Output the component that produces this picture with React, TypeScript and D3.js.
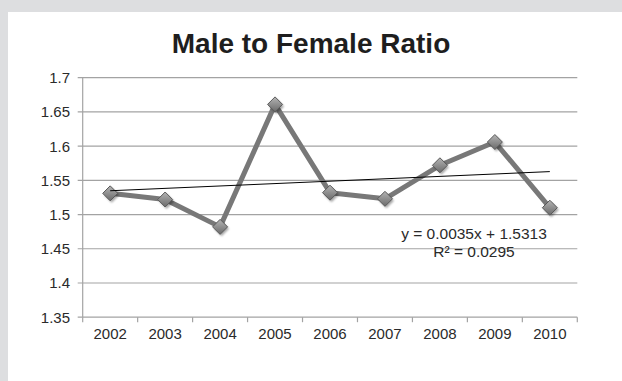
import React, { useEffect } from "react";
import * as d3 from "d3";

const years: string[] = ["2002", "2003", "2004", "2005", "2006", "2007", "2008", "2009", "2010"];
const ratios: number[] = [1.531, 1.522, 1.482, 1.661, 1.532, 1.523, 1.572, 1.606, 1.51];
const yTicks: number[] = [1.35, 1.4, 1.45, 1.5, 1.55, 1.6, 1.65, 1.7];
const yTickLabels: string[] = ["1.35", "1.4", "1.45", "1.5", "1.55", "1.6", "1.65", "1.7"];
const title = "Male to Female Ratio";
const trendLabel = "y = 0.0035x + 1.5313";
const r2Label = "R² = 0.0295";

const W = 622;
const H = 381;
const FONT = "'Liberation Sans', Arial, sans-serif";

export default function App() {
  useEffect(() => {
    document.body.style.margin = "0";
  }, []);

  const x = d3.scaleBand<string>().domain(years).range([82.7, 577.3]).paddingInner(0).paddingOuter(0);
  const y = d3.scaleLinear().domain([1.35, 1.7]).range([317.2, 77.7]);
  const cx = (d: string) => (x(d) as number) + x.bandwidth() / 2;

  // linear regression trendline (x = 1..n)
  const n = ratios.length;
  const xs = ratios.map((_, i) => i + 1);
  const mx = d3.mean(xs) as number;
  const my = d3.mean(ratios) as number;
  const slope =
    d3.sum(xs.map((xi, i) => (xi - mx) * (ratios[i] - my))) / d3.sum(xs.map((xi) => (xi - mx) ** 2));
  const intercept = my - slope * mx;
  const trendPts: [number, number][] = [
    [cx(years[0]), y(intercept + slope * 1)],
    [cx(years[n - 1]), y(intercept + slope * n)],
  ];

  const line = d3
    .line<number>()
    .x((_, i) => cx(years[i]))
    .y((d) => y(d));

  const left = 82.7;
  const right = 577.3;
  const bottom = y(1.35);
  const boundaries = [...years.map((d) => x(d) as number), right];
  const s = 7.5;
  const diamond = `M0,${-s}L${s},0L0,${s}L${-s},0Z`;

  return (
    <svg width={W} height={H} style={{ position: "absolute", left: 0, top: 0, display: "block" }} fontFamily={FONT}>
      <defs>
        <linearGradient id="mk" x1="0" y1="0" x2="0" y2="1">
          <stop offset="0" stopColor="#b4b4b4" />
          <stop offset="1" stopColor="#6a6a6a" />
        </linearGradient>
        <filter id="sh" x="-50%" y="-50%" width="200%" height="200%">
          <feGaussianBlur stdDeviation="1.2" />
        </filter>
      </defs>
      <rect x={0} y={0} width={W} height={H} fill="#dddee0" />
      <rect x={8} y={12} width={W - 8} height={H - 12} fill="#ffffff" />

      <text x={311} y={53.3} textAnchor="middle" fontSize={28} fontWeight="bold" fill="#1e1e1e">
        {title}
      </text>

      {yTicks.map((t, i) => (
        <g key={t}>
          <line x1={77.7} x2={right} y1={y(t)} y2={y(t)} stroke="#a3a3a3" strokeWidth={1.2} />
          <text x={70} y={y(t)} dy="0.36em" textAnchor="end" fontSize={15} fill="#2a2a2a">
            {yTickLabels[i]}
          </text>
        </g>
      ))}
      <line x1={left} x2={left} y1={y(1.7)} y2={bottom} stroke="#a3a3a3" strokeWidth={1.2} />
      {boundaries.map((b, i) => (
        <line key={i} x1={b} x2={b} y1={bottom} y2={bottom + 5} stroke="#a3a3a3" strokeWidth={1.2} />
      ))}
      {years.map((d) => (
        <text key={d} x={cx(d)} y={339} textAnchor="middle" fontSize={15} fill="#2a2a2a">
          {d}
        </text>
      ))}

      <path d={line(ratios) as string} fill="none" stroke="#787878" strokeWidth={5} strokeLinejoin="round" />

      {ratios.map((v, i) => (
        <g key={i} transform={`translate(${cx(years[i])},${y(v)})`}>
          <path d={diamond} transform="translate(1.5,2)" fill="#000" opacity={0.35} filter="url(#sh)" />
          <path d={diamond} fill="url(#mk)" stroke="#5a5a5a" strokeWidth={1} />
        </g>
      ))}

      <line
        x1={trendPts[0][0]}
        y1={trendPts[0][1]}
        x2={trendPts[1][0]}
        y2={trendPts[1][1]}
        stroke="#000"
        strokeWidth={1}
      />

      <text x={474} y={238.5} textAnchor="middle" fontSize={15.5} fill="#2a2a2a">
        {trendLabel}
      </text>
      <text x={474} y={256.7} textAnchor="middle" fontSize={15.5} fill="#2a2a2a">
        {r2Label}
      </text>
    </svg>
  );
}
